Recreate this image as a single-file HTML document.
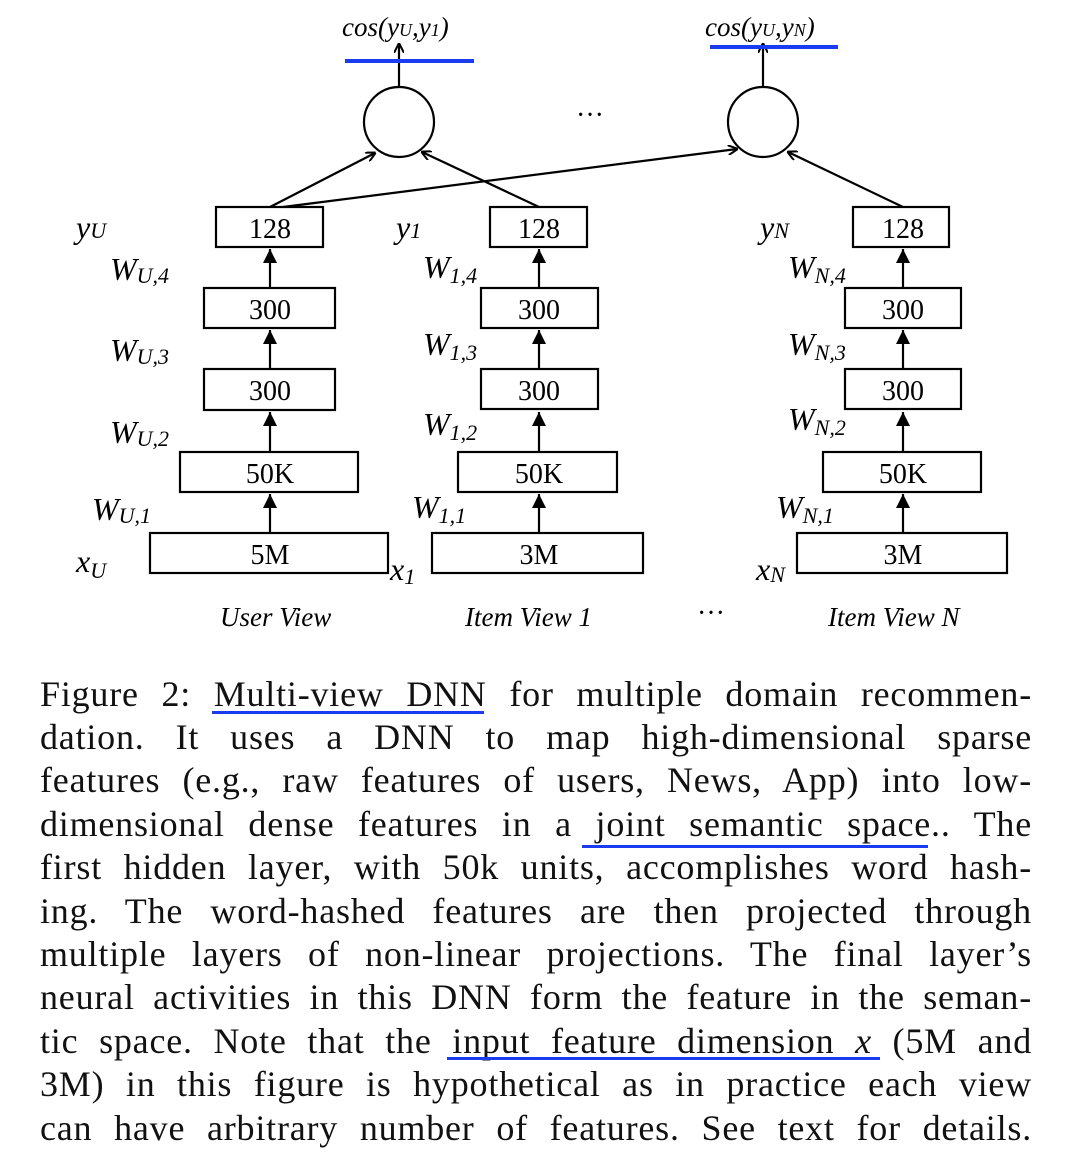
<!DOCTYPE html>
<html><head><meta charset="utf-8"><style>
body{margin:0;width:1080px;height:1157px;background:#fff;overflow:hidden;position:relative;font-family:"Liberation Serif",serif;}
.l{position:absolute;left:40px;width:992px;font-size:36px;letter-spacing:0.8px;line-height:40px;text-align:justify;text-align-last:justify;white-space:nowrap;color:#111;}
.u{position:absolute;height:3px;background:#1a3cf0;}
svg text{font-family:"Liberation Serif",serif;}
</style></head><body>
<svg width="1080" height="660" style="position:absolute;left:0;top:0" xmlns="http://www.w3.org/2000/svg">
<defs>
<marker id="a" markerWidth="10" markerHeight="10" refX="9" refY="5" orient="auto" markerUnits="userSpaceOnUse"><path d="M0,0 L10,5 L0,10" fill="none" stroke="#000" stroke-width="2"/></marker>
<marker id="b" markerWidth="14" markerHeight="16" refX="14" refY="7" orient="auto" markerUnits="userSpaceOnUse"><path d="M0,0 L14,7 L0,14 z" fill="#000"/></marker>
</defs>
<g fill="none" stroke="#000" stroke-width="2.2">
<circle cx="399" cy="122" r="35"/><circle cx="763" cy="122" r="35"/>
<line x1="399" y1="87" x2="399" y2="44" marker-end="url(#a)"/>
<line x1="763" y1="87" x2="763" y2="44" marker-end="url(#a)"/>
<line x1="270" y1="207" x2="375" y2="153" marker-end="url(#a)"/>
<line x1="539" y1="207" x2="422" y2="152" marker-end="url(#a)"/>
<line x1="283" y1="207" x2="737" y2="149" marker-end="url(#a)"/>
<line x1="903" y1="207" x2="788" y2="152" marker-end="url(#a)"/>
<rect x="216" y="207" width="107" height="40"/><rect x="204" y="288" width="131" height="40"/><rect x="204" y="369" width="131" height="41"/><rect x="180" y="452" width="178" height="40"/><rect x="150" y="533" width="238" height="40"/>
<rect x="490" y="207" width="97" height="40"/><rect x="481" y="288" width="117" height="40"/><rect x="481" y="369" width="117" height="40"/><rect x="458" y="452" width="159" height="40"/><rect x="432" y="533" width="211" height="40"/>
<rect x="853" y="207" width="96" height="40"/><rect x="845" y="288" width="116" height="40"/><rect x="845" y="369" width="116" height="40"/><rect x="823" y="452" width="158" height="40"/><rect x="797" y="533" width="210" height="40"/>
<g id="ar">
<line x1="270" y1="288" x2="270" y2="249" marker-end="url(#b)"/><line x1="270" y1="369" x2="270" y2="330" marker-end="url(#b)"/><line x1="270" y1="452" x2="270" y2="412" marker-end="url(#b)"/><line x1="270" y1="533" x2="270" y2="494" marker-end="url(#b)"/>
</g>
<use href="#ar" x="269"/><use href="#ar" x="633"/>
</g>
<g font-size="28" text-anchor="middle">
<text x="270" y="238">128</text><text x="270" y="319">300</text><text x="270" y="400">300</text><text x="270" y="483">50K</text><text x="270" y="564">5M</text>
<text x="539" y="238">128</text><text x="539" y="319">300</text><text x="539" y="400">300</text><text x="539" y="483">50K</text><text x="539" y="564">3M</text>
<text x="903" y="238">128</text><text x="903" y="319">300</text><text x="903" y="400">300</text><text x="903" y="483">50K</text><text x="903" y="564">3M</text>
<text x="590" y="124">···</text><text x="711" y="622">···</text>
</g>
<g font-size="27" font-style="italic">
<text x="342" y="36">cos(y<tspan font-size="18">U</tspan>,y<tspan font-size="18">1</tspan>)</text>
<text x="705" y="36">cos(y<tspan font-size="18">U</tspan>,y<tspan font-size="18">N</tspan>)</text>
<text x="220" y="626">User View</text><text x="465" y="626">Item View 1</text><text x="828" y="626">Item View N</text>
<g font-size="32">
<text x="76" y="238">y<tspan font-size="22">U</tspan></text>
<text x="396" y="238">y<tspan font-size="22">1</tspan></text>
<text x="760" y="238">y<tspan font-size="22">N</tspan></text>
<text x="76" y="572">x<tspan font-size="22" dy="6">U</tspan></text>
<text x="390" y="580">x<tspan font-size="22" dy="4">1</tspan></text>
<text x="756" y="580">x<tspan font-size="22" dy="2">N</tspan></text>
<text x="110" y="280">W<tspan font-size="22" dy="3">U,4</tspan></text>
<text x="110" y="361">W<tspan font-size="22" dy="3">U,3</tspan></text>
<text x="110" y="443">W<tspan font-size="22" dy="3">U,2</tspan></text>
<text x="92" y="520">W<tspan font-size="22" dy="3">U,1</tspan></text>
<text x="423" y="278">W<tspan font-size="22" dy="5">1,4</tspan></text>
<text x="423" y="355">W<tspan font-size="22" dy="5">1,3</tspan></text>
<text x="423" y="435">W<tspan font-size="22" dy="5">1,2</tspan></text>
<text x="412" y="518">W<tspan font-size="22" dy="5">1,1</tspan></text>
<text x="788" y="278">W<tspan font-size="22" dy="5">N,4</tspan></text>
<text x="788" y="355">W<tspan font-size="22" dy="5">N,3</tspan></text>
<text x="788" y="430">W<tspan font-size="22" dy="5">N,2</tspan></text>
<text x="776" y="518">W<tspan font-size="22" dy="5">N,1</tspan></text>
</g></g>
<rect x="345" y="59" width="129" height="4" fill="#1a3cf0"/>
<rect x="710" y="45" width="128" height="4" fill="#1a3cf0"/>
</svg>
<div class="l" style="top:674px">Figure 2: Multi-view DNN for multiple domain recommen-</div>
<div class="l" style="top:717px">dation. It uses a DNN to map high-dimensional sparse</div>
<div class="l" style="top:760px">features (e.g., raw features of users, News, App) into low-</div>
<div class="l" style="top:804px">dimensional dense features in a joint semantic space.. The</div>
<div class="l" style="top:847px">first hidden layer, with 50k units, accomplishes word hash-</div>
<div class="l" style="top:891px">ing. The word-hashed features are then projected through</div>
<div class="l" style="top:934px">multiple layers of non-linear projections. The final layer’s</div>
<div class="l" style="top:977px">neural activities in this DNN form the feature in the seman-</div>
<div class="l" style="top:1021px">tic space. Note that the input feature dimension <i>x</i> (5M and</div>
<div class="l" style="top:1064px">3M) in this figure is hypothetical as in practice each view</div>
<div class="l" style="top:1108px">can have arbitrary number of features. See text for details.</div>
<div class="u" style="left:212px;top:711px;width:272px"></div>
<div class="u" style="left:582px;top:845px;width:346px"></div>
<div class="u" style="left:447px;top:1057px;width:433px"></div>
</body></html>
